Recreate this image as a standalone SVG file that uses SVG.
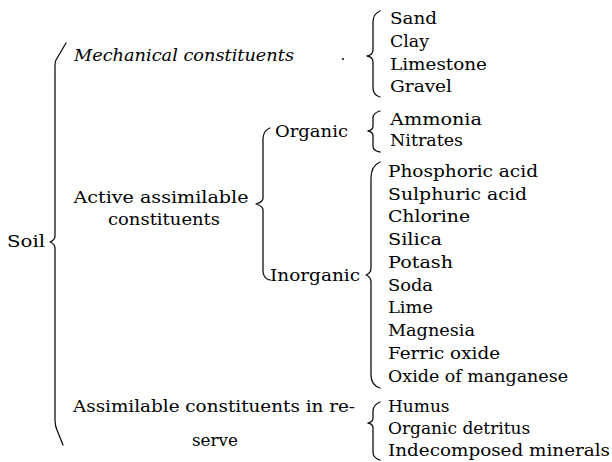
<svg xmlns="http://www.w3.org/2000/svg" width="612" height="462" viewBox="0 0 612 462">
<style>
  text { font-family: "DejaVu Serif", "Liberation Serif", serif; font-size: 17px; fill: #000; }
  .it { font-style: italic; }
  .mid { text-anchor: middle; }
  .brace { fill: none; stroke: #111; stroke-width: 1.3; stroke-linejoin: round; stroke-linecap: round; }
</style>
<rect width="612" height="462" fill="#fff"/>

<g id="connectors">
  <!-- Soil brace -->
  <path class="brace" d="M66 43 L56 60 Q55 62 55 66 L55 236 Q55 240 50 242 Q55 244 55 248 L55 420 Q55 426 57 430 L63 445"/>
  <!-- Organic / Inorganic brace -->
  <path class="brace" d="M270 128 Q264 130 263 138 L263 198 Q263 202 256 204 Q263 206 263 210 L263 272 Q264 279 270 280"/>
  <!-- Mechanical list brace -->
  <path class="brace" d="M380 11 Q373 14 373 22 L373 50 Q373 55 367 56 Q373 57 373 62 L373 88 Q373 95 380 97"/>
  <!-- Organic list brace -->
  <path class="brace" d="M380 111 Q373 113 373 118 L373 126 Q373 130 368 131 Q373 132 373 136 L373 146 Q373 151 380 152"/>
  <!-- Inorganic list brace -->
  <path class="brace" d="M380 162 Q371 166 371 178 L371 268 Q371 273 366 275 Q371 277 371 282 L371 375 Q371 385 380 388"/>
  <!-- Reserve list brace -->
  <path class="brace" d="M380 402 Q373 405 373 411 L373 418 Q373 422 368 423 Q373 424 373 428 L373 452 Q373 458 380 460"/>
</g>

<g id="soil"><text x="7" y="247" textLength="38" lengthAdjust="spacingAndGlyphs">Soil</text></g>

<g id="mechanical">
  <text class="it" x="74" y="61" textLength="220" lengthAdjust="spacingAndGlyphs">Mechanical constituents</text>
  <circle cx="343" cy="59" r="1.1" fill="#111"/>
</g>
<g id="mechanical-items">
  <text x="390" y="24" textLength="47" lengthAdjust="spacingAndGlyphs">Sand</text>
  <text x="390" y="47" textLength="39" lengthAdjust="spacingAndGlyphs">Clay</text>
  <text x="390" y="70" textLength="97" lengthAdjust="spacingAndGlyphs">Limestone</text>
  <text x="390" y="92" textLength="62" lengthAdjust="spacingAndGlyphs">Gravel</text>
</g>

<g id="active">
  <text class="mid" x="161" y="203" textLength="175" lengthAdjust="spacingAndGlyphs">Active assimilable</text>
  <text class="mid" x="164" y="225" textLength="112" lengthAdjust="spacingAndGlyphs">constituents</text>
</g>

<g id="organic"><text x="275" y="137" textLength="73" lengthAdjust="spacingAndGlyphs">Organic</text></g>
<g id="organic-items">
  <text x="390" y="125" textLength="92" lengthAdjust="spacingAndGlyphs">Ammonia</text>
  <text x="390" y="146" textLength="73" lengthAdjust="spacingAndGlyphs">Nitrates</text>
</g>

<g id="inorganic"><text x="270" y="281" textLength="90" lengthAdjust="spacingAndGlyphs">Inorganic</text></g>
<g id="inorganic-items">
  <text x="388" y="177" textLength="150" lengthAdjust="spacingAndGlyphs">Phosphoric acid</text>
  <text x="388" y="200" textLength="139" lengthAdjust="spacingAndGlyphs">Sulphuric acid</text>
  <text x="388" y="222" textLength="82" lengthAdjust="spacingAndGlyphs">Chlorine</text>
  <text x="388" y="245" textLength="54" lengthAdjust="spacingAndGlyphs">Silica</text>
  <text x="388" y="268" textLength="65" lengthAdjust="spacingAndGlyphs">Potash</text>
  <text x="388" y="291" textLength="45" lengthAdjust="spacingAndGlyphs">Soda</text>
  <text x="388" y="313" textLength="45" lengthAdjust="spacingAndGlyphs">Lime</text>
  <text x="388" y="336" textLength="87" lengthAdjust="spacingAndGlyphs">Magnesia</text>
  <text x="388" y="359" textLength="112" lengthAdjust="spacingAndGlyphs">Ferric oxide</text>
  <text x="388" y="382" textLength="180" lengthAdjust="spacingAndGlyphs">Oxide of manganese</text>
</g>

<g id="reserve">
  <text x="73" y="412" textLength="282" lengthAdjust="spacingAndGlyphs">Assimilable constituents in re-</text>
  <text class="mid" x="215" y="446" textLength="46" lengthAdjust="spacingAndGlyphs">serve</text>
</g>
<g id="reserve-items">
  <text x="388" y="412">Humus</text>
  <text x="388" y="434">Organic detritus</text>
  <text x="388" y="456" textLength="222" lengthAdjust="spacingAndGlyphs">Indecomposed minerals</text>
</g>
</svg>
